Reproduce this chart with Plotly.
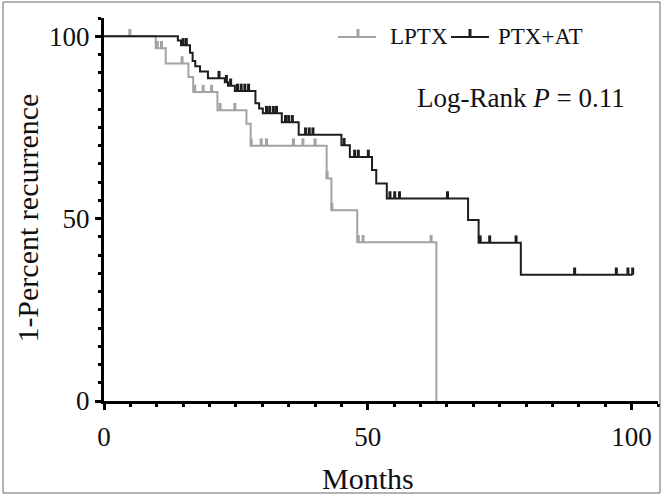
import plotly.graph_objects as go

# ---- data (months, percent) ----
lptx_t = [0, 9.8, 11.7, 16.0, 16.9, 21.5, 27.0, 27.8, 42.2, 43.1, 48.0, 63.0]
lptx_s = [100, 96.7, 92.5, 88.8, 84.7, 79.7, 76.0, 70.0, 61.0, 52.3, 43.5, 0]
lptx_cens = [4.9, 10.1, 10.9, 14.8, 17.2, 18.8, 20.4, 22.0, 24.8, 27.9, 29.8, 30.8,
             35.9, 37.7, 40.0, 42.3, 43.2, 48.2, 49.1, 62.0]

ptx_t = [0, 14.0, 14.6, 16.3, 16.8, 17.3, 18.2, 19.7, 22.9, 23.5, 24.8, 28.7, 29.4,
         30.1, 33.7, 36.9, 45.0, 46.6, 50.8, 51.6, 53.6, 69.0, 71.0, 79.0, 100.2]
ptx_s = [100, 98.8, 97.5, 95.5, 93.2, 91.8, 90.3, 88.5, 87.4, 86.4, 85.0, 81.6, 80.2,
         78.9, 76.4, 73.0, 70.1, 66.9, 63.3, 59.6, 55.5, 49.6, 43.4, 34.6, 34.6]
ptx_cens = [15.0, 15.6, 21.8, 23.2, 24.0, 25.3, 26.0, 26.7, 27.4, 30.8, 31.4, 32.1, 32.7,
            34.4, 35.0, 35.7, 38.2, 38.9, 39.6, 45.5, 47.5, 48.2, 50.1, 54.2, 55.1, 56.0,
            65.1, 71.3, 73.1, 78.1, 89.2, 97.1, 99.3, 100.2]

x_ticks = [0, 50, 100]
y_ticks = [0, 50, 100]
names = ["LPTX", "PTX+AT"]
x_title = "Months"
y_title = "1-Percent recurrence"
colors = ["#a3a3a3", "#1e1e1e"]
FONT = "Liberation Serif"
TICK_H = 2.0  # censor tick height in percent units


def surv_at(ts, ss, t):
    v = ss[0]
    for ti, si in zip(ts, ss):
        if ti <= t + 1e-9:
            v = si
    return v


def censor_xy(ts, ss, cens):
    xs, ys = [], []
    for c in cens:
        s = surv_at(ts, ss, c)
        xs += [c, c, None]
        ys += [s, s + TICK_H, None]
    return xs, ys


fig = go.Figure()
for (ts, ss, cens), col in zip([(lptx_t, lptx_s, lptx_cens), (ptx_t, ptx_s, ptx_cens)], colors):
    fig.add_trace(go.Scatter(x=ts, y=ss, mode="lines", line=dict(color=col, width=2, shape="hv"),
                             showlegend=False, hoverinfo="skip"))
    cx, cy = censor_xy(ts, ss, cens)
    fig.add_trace(go.Scatter(x=cx, y=cy, mode="lines", line=dict(color=col, width=3),
                             showlegend=False, hoverinfo="skip"))

W, H = 662, 495
L, R, T, B = 104, 4, 18, 94
PW, PH = W - L - R, H - T - B


def px(x):
    return (x - L) / PW


def py(y):
    return (H - B - y) / PH


shapes = []
# outer frame
shapes.append(dict(type="rect", xref="paper", yref="paper", x0=px(3), x1=px(660), y0=py(2), y1=py(493),
                   line=dict(color="#666666", width=1)))
annotations = []
# manual legend
LEG_Y = 37
leg = [(338, 376, 358, 388, names[0], colors[0]), (451, 489, 470, 496, names[1], colors[1])]
for x0, x1, xt, xtext, name, col in leg:
    shapes.append(dict(type="line", xref="paper", yref="paper", x0=px(x0), x1=px(x1), y0=py(LEG_Y), y1=py(LEG_Y),
                       line=dict(color=col, width=2)))
    shapes.append(dict(type="line", xref="paper", yref="paper", x0=px(xt), x1=px(xt), y0=py(LEG_Y), y1=py(LEG_Y - 8),
                       line=dict(color=col, width=3)))
    annotations.append(dict(text=name, xref="paper", yref="paper", x=px(xtext), y=py(36), xanchor="left",
                            yanchor="middle", showarrow=False, font=dict(family=FONT, size=23, color="#111")))
annotations.append(dict(text="Log-Rank <i>P</i> = 0.11", xref="paper", yref="paper", x=px(521), y=py(98),
                        xanchor="center", yanchor="middle", showarrow=False,
                        font=dict(family=FONT, size=27, color="#111")))
# axis titles, centred on the 0-100 span as in the original
annotations.append(dict(text=x_title, xref="x", yref="paper", x=50, y=py(478), xanchor="center",
                        yanchor="middle", showarrow=False, font=dict(family=FONT, size=30, color="#111")))
annotations.append(dict(text=y_title, xref="paper", yref="y", x=px(28), y=50, xanchor="center",
                        yanchor="middle", textangle=-90, showarrow=False,
                        font=dict(family=FONT, size=30, color="#111")))

axis_common = dict(showline=True, linewidth=3, linecolor="black", ticks="outside", ticklen=6, tickwidth=3,
                   tickcolor="black", showgrid=False, zeroline=False,
                   tickfont=dict(family=FONT, size=27, color="#111"),
                   minor=dict(ticks="outside", dtick=5, ticklen=3, tickwidth=3, tickcolor="black", showgrid=False))

fig.update_layout(
    width=W, height=H, margin=dict(l=L, r=R, t=T, b=B),
    plot_bgcolor="white", paper_bgcolor="white",
    xaxis=dict(range=[0, 105], tickvals=x_ticks, ticktext=[str(v) for v in x_ticks], ticklabelstandoff=4,
               **axis_common),
    yaxis=dict(range=[0, 105], tickvals=y_ticks, ticktext=[str(v) for v in y_ticks],
               **axis_common),
    shapes=shapes, annotations=annotations, showlegend=False,
)
fig.write_html("out.html", config={"displayModeBar": False},
               post_script="document.body.style.margin='0px';")
